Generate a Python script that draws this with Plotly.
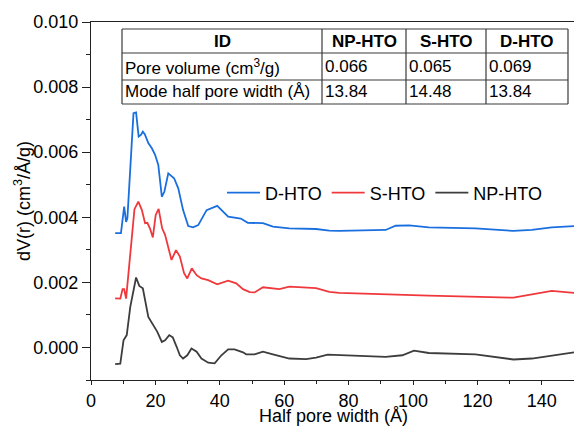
import plotly.graph_objects as go

# ---------------- data ----------------
d_x = [7.5, 9.3, 10.3, 10.9, 11.3, 13.2, 14.0, 14.8, 15.5, 16.1, 16.7, 17.8, 18.9, 19.9, 20.9, 22.0, 22.8,
       24.0, 25.8, 27.1, 28.6, 30.2, 31.7, 33.3, 35.9, 39.2, 42.6, 46.5, 48.7, 53.4, 56.5, 61.6, 69.9, 74.0,
       77.1, 91.5, 94.6, 98.8, 104.9, 119.4, 131.2, 136.9, 143.1, 150.0]
d_y = [0.00351, 0.00351, 0.00433, 0.00386, 0.00397, 0.00720, 0.00722, 0.00648, 0.00653, 0.00663, 0.00655,
       0.00628, 0.00612, 0.00592, 0.00561, 0.00463, 0.00479, 0.00535, 0.00520, 0.00489, 0.00422, 0.00373,
       0.00369, 0.00376, 0.00422, 0.00435, 0.00402, 0.00396, 0.00383, 0.00382, 0.00371, 0.00366, 0.00364,
       0.00359, 0.00358, 0.00361, 0.00374, 0.00375, 0.00369, 0.00366, 0.00358, 0.00361, 0.00369, 0.00373]

s_x = [7.5, 9.1, 9.8, 10.3, 10.9, 12.7, 13.5, 14.7, 15.8, 16.8, 17.5, 18.3, 19.2, 20.1, 21.0, 22.1, 23.0,
       25.0, 26.4, 27.6, 28.9, 29.9, 31.3, 32.8, 34.3, 36.4, 39.2, 42.6, 45.1, 47.2, 49.3, 50.8, 53.4, 58.5,
       61.6, 69.9, 74.0, 77.1, 98.8, 104.9, 131.2, 143.1, 150.0]
s_y = [0.00151, 0.00150, 0.00179, 0.00179, 0.00150, 0.00330, 0.00425, 0.00448, 0.00422, 0.00382, 0.00383,
       0.00366, 0.00338, 0.00407, 0.00426, 0.00366, 0.00346, 0.00269, 0.00299, 0.00279, 0.00228, 0.00212,
       0.00243, 0.00222, 0.00212, 0.00207, 0.00194, 0.00205, 0.00197, 0.00179, 0.00170, 0.00169, 0.00185,
       0.00179, 0.00187, 0.00182, 0.00171, 0.00168, 0.00161, 0.00159, 0.00153, 0.00174, 0.00168]

np_x = [7.5, 9.1, 10.1, 11.1, 12.2, 14.0, 15.0, 16.1, 17.8, 19.4, 20.6, 22.0, 23.0, 24.3, 25.4, 26.6, 27.6,
        28.6, 29.9, 31.2, 32.8, 34.3, 36.4, 38.4, 40.5, 42.6, 44.6, 47.2, 48.2, 50.8, 53.4, 56.5, 61.6, 66.8,
        69.9, 73.5, 80.2, 91.5, 96.7, 100.3, 104.9, 119.4, 131.2, 136.9, 150.0]
np_y = [-0.00051, -0.00050, 0.00022, 0.00038, 0.00125, 0.00215, 0.00189, 0.00182, 0.00094, 0.00069,
        0.00048, 0.00017, 0.00022, 0.00038, 0.00031, 0.00002, -0.00024, -0.00034, -0.00024, -0.00003,
        -0.00013, -0.00034, -0.00047, -0.00049, -0.00024, -0.00006, -0.00006, -0.00015, -0.00021, -0.00021,
        -0.00013, -0.00021, -0.00034, -0.00036, -0.00031, -0.00022, -0.00024, -0.00029, -0.00024, -0.00010,
        -0.00017, -0.00021, -0.00037, -0.00034, -0.00015]

series_names = ["D-HTO", "S-HTO", "NP-HTO"]
series_colors = ["#1a6fdf", "#f0383c", "#3d3d3d"]

x_title = "Half pore width (Å)"
y_title = "dV(r) (cm<sup>3</sup>/Å/g)"

table_header = ["ID", "NP-HTO", "S-HTO", "D-HTO"]
table_rows = [
    ["Pore volume (cm<sup>3</sup>/g)", "0.066", "0.065", "0.069"],
    ["Mode half pore width (Å)", "13.84", "14.48", "13.84"],
]

FONT = "Arial, Liberation Sans, sans-serif"

fig = go.Figure()
for xs, ys, name, col in zip([d_x, s_x, np_x], [d_y, s_y, np_y], series_names, series_colors):
    fig.add_trace(go.Scatter(x=xs, y=ys, mode="lines", name=name,
                             line=dict(color=col, width=1.8)))

# ---------------- layout geometry ----------------
L, R, T, B = 91, 574, 22, 380
W, H = 574, 426


def fx(px):
    return (px - L) / (R - L)


def fy(py):
    return (B - py) / (B - T)


# table grid
col_edges = [122, 322, 406, 486, 568]
row_edges = [29, 53, 80, 104]
line_style = dict(color="#3a3a3a", width=1.2)
shapes = []
for cx in col_edges:
    shapes.append(dict(type="line", xref="paper", yref="paper", x0=fx(cx), x1=fx(cx),
                       y0=fy(row_edges[0]), y1=fy(row_edges[-1]), line=line_style))
for ry in row_edges:
    shapes.append(dict(type="line", xref="paper", yref="paper", x0=fx(col_edges[0]), x1=fx(col_edges[-1]),
                       y0=fy(ry), y1=fy(ry), line=line_style))

annotations = []
for i, h in enumerate(table_header):
    cx = (col_edges[i] + col_edges[i + 1]) / 2
    cy = (row_edges[0] + row_edges[1]) / 2
    annotations.append(dict(text="<b>%s</b>" % h, xref="paper", yref="paper", x=fx(cx), y=fy(cy),
                            xanchor="center", yanchor="middle", showarrow=False,
                            font=dict(family=FONT, size=17, color="black")))
for r, row in enumerate(table_rows):
    cy = (row_edges[r + 1] + row_edges[r + 2]) / 2
    for i, v in enumerate(row):
        annotations.append(dict(text=v, xref="paper", yref="paper", x=fx(col_edges[i] + 1), y=fy(cy),
                                xanchor="left", yanchor="middle", showarrow=False,
                                font=dict(family=FONT, size=17, color="black")))

# axis titles
annotations.append(dict(text=x_title, xref="paper", yref="paper", x=fx(333), y=fy(416),
                        xanchor="center", yanchor="middle", showarrow=False, borderpad=0,
                        font=dict(family=FONT, size=18, color="black")))
annotations.append(dict(text=y_title, xref="paper", yref="paper", x=fx(22), y=fy(201),
                        xanchor="center", yanchor="middle", showarrow=False, textangle=-90,
                        font=dict(family=FONT, size=18, color="black")))

fig.update_layout(
    width=W, height=H,
    margin=dict(l=L, r=W - R, t=T, b=H - B, autoexpand=False),
    paper_bgcolor="white", plot_bgcolor="white",
    font=dict(family=FONT, size=18, color="black"),
    showlegend=True,
    legend=dict(orientation="h", x=fx(222), y=fy(193), xanchor="left", yanchor="middle",
                bgcolor="rgba(0,0,0,0)", font=dict(family=FONT, size=18, color="black"),
                itemwidth=33, tracegroupgap=0),
    shapes=shapes,
    annotations=annotations,
    xaxis=dict(range=[0, 150], dtick=20, tick0=0, showgrid=False, zeroline=False, automargin=False,
               showline=True, linecolor="#222", linewidth=1.3, mirror=True,
               ticks="outside", ticklen=4, tickwidth=1.2, tickcolor="#222",
               minor=dict(dtick=10, ticks="outside", ticklen=3, tickwidth=1.2, tickcolor="#222"),
               tickfont=dict(family=FONT, size=18, color="black")),
    yaxis=dict(range=[-0.001, 0.010], dtick=0.002, tick0=0, tickformat=".3f", showgrid=False,
               zeroline=False, showline=True, linecolor="#222", linewidth=1.3, automargin=False,
               ticks="outside", ticklen=8, tickwidth=1.2, tickcolor="#222",
               minor=dict(dtick=0.001, ticks="outside", ticklen=4, tickwidth=1.2, tickcolor="#222"),
               tickfont=dict(family=FONT, size=18, color="black")),
)

fig.write_html("out.html", config={"displayModeBar": False},
               post_script="document.body.style.margin='0px';document.body.style.overflow='hidden';")
